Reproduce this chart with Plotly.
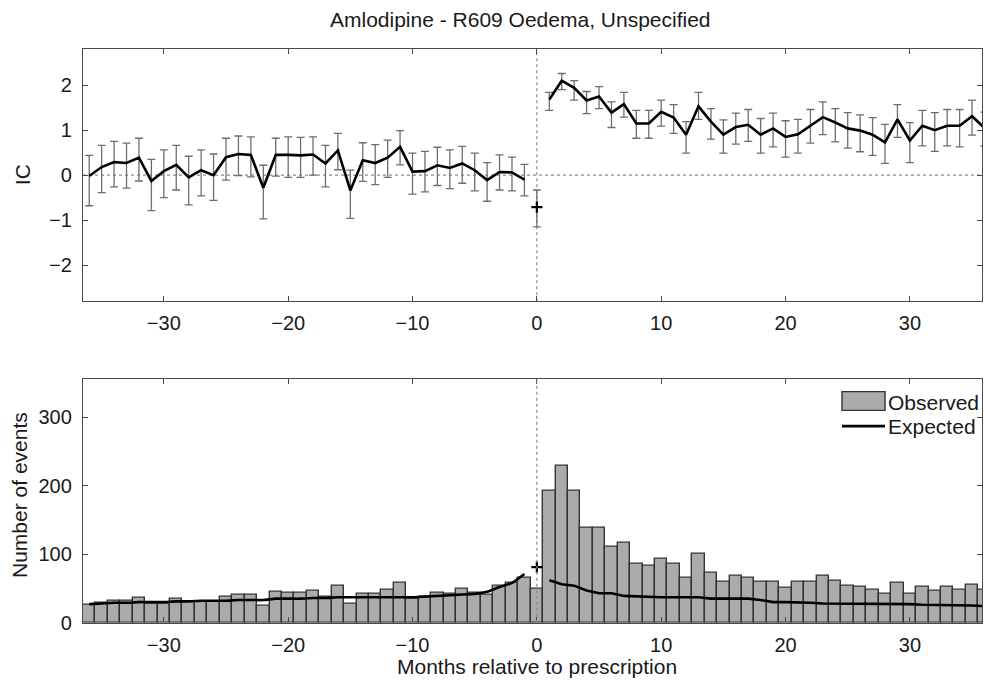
import plotly.graph_objects as go

# ---------------- data ----------------
months_pre = list(range(-36, 0))
months_post = list(range(1, 37))
months_all = list(range(-36, 37))

ic_pre = [-0.02, 0.18, 0.29, 0.27, 0.39, -0.13, 0.09, 0.23, -0.05, 0.11, 0.00, 0.40,
          0.47, 0.45, -0.28, 0.45, 0.45, 0.44, 0.46, 0.26, 0.55, -0.34, 0.33, 0.27,
          0.39, 0.63, 0.08, 0.09, 0.22, 0.16, 0.26, 0.11, -0.11, 0.07, 0.06, -0.10]
ic_pre_hi = [0.44, 0.66, 0.75, 0.71, 0.82, 0.35, 0.56, 0.66, 0.42, 0.56, 0.47, 0.82,
             0.87, 0.85, 0.22, 0.82, 0.85, 0.84, 0.85, 0.66, 0.93, 0.11, 0.72, 0.68,
             0.78, 0.99, 0.49, 0.53, 0.62, 0.56, 0.64, 0.49, 0.28, 0.45, 0.40, 0.24]
ic_pre_lo = [-0.68, -0.39, -0.26, -0.29, -0.13, -0.79, -0.50, -0.33, -0.66, -0.46, -0.56, -0.11,
             -0.01, -0.04, -0.97, -0.02, -0.05, -0.05, 0.00, -0.26, 0.12, -0.96, -0.14, -0.21,
             -0.05, 0.23, -0.42, -0.37, -0.23, -0.30, -0.18, -0.35, -0.58, -0.33, -0.35, -0.46]

ic_zero = [-0.71]
ic_zero_hi = [-0.33]
ic_zero_lo = [-1.15]

ic_post = [1.68, 2.10, 1.94, 1.66, 1.75, 1.39, 1.58, 1.15, 1.15, 1.41, 1.28, 0.90,
           1.53, 1.19, 0.90, 1.07, 1.12, 0.90, 1.04, 0.85, 0.91, 1.10, 1.29, 1.17,
           1.04, 0.99, 0.90, 0.73, 1.24, 0.77, 1.10, 1.00, 1.10, 1.10, 1.31, 1.05]
ic_post_hi = [1.84, 2.26, 2.10, 1.86, 1.97, 1.63, 1.84, 1.44, 1.44, 1.67, 1.57, 1.19,
              1.84, 1.48, 1.23, 1.38, 1.46, 1.26, 1.38, 1.21, 1.24, 1.46, 1.63, 1.48,
              1.39, 1.34, 1.28, 1.13, 1.57, 1.17, 1.44, 1.39, 1.46, 1.46, 1.67, 1.40]
ic_post_lo = [1.44, 1.90, 1.67, 1.37, 1.48, 1.06, 1.29, 0.82, 0.82, 1.09, 0.93, 0.49,
              1.24, 0.80, 0.49, 0.69, 0.75, 0.49, 0.63, 0.40, 0.49, 0.71, 0.90, 0.74,
              0.60, 0.52, 0.44, 0.26, 0.84, 0.28, 0.65, 0.53, 0.65, 0.63, 0.89, 0.65]

observed = [26, 29, 32, 32, 36, 28, 28, 34, 30, 31, 31, 38,
            41, 41, 25, 45, 43, 43, 46, 38, 53, 28, 42, 42,
            48, 58, 35, 37, 44, 42, 49, 43, 41, 53, 58, 66,
            49,
            193, 229, 193, 139, 139, 110, 116, 86, 83, 93, 86, 65,
            100, 72, 59, 68, 66, 60, 60, 51, 59, 60, 68, 61,
            54, 52, 48, 42, 58, 42, 52, 46, 52, 48, 55, 48]

expected_pre = [27, 28, 29, 29, 30, 30, 30, 31, 31, 32, 32, 32,
                33, 33, 33, 35, 35, 35, 36, 36, 37, 37, 37, 37,
                37, 37, 37, 38, 39, 40, 41, 42, 45, 52, 58, 71]
expected_zero = [81]
expected_post = [62, 56, 54, 47, 43, 43, 39, 38, 37, 37, 37, 37,
                 37, 35, 35, 35, 35, 33, 30, 30, 30, 29, 28, 28,
                 28, 28, 27, 27, 27, 27, 26, 26, 26, 25, 25, 24]

x_ticks = [-30, -20, -10, 0, 10, 20, 30]
ic_ticks = [-2, -1, 0, 1, 2]
count_ticks = [0, 100, 200, 300]

title_text = "Amlodipine - R609 Oedema, Unspecified"
ic_label = "IC"
count_label = "Number of events"
x_label = "Months relative to prescription"

# ---------------- figure ----------------
W, H = 984, 691          # reference picture size, used to convert to paper fractions
FONT = "Liberation Sans, Arial, Helvetica, sans-serif"
TXT = "#1a1a1a"
AX = "#4a4a4a"
ERR = "#6e6e6e"

def px_x(x):
    return x / W

def px_y(y):
    return 1 - y / H

fig = go.Figure()

def err(vals, hi, lo):
    return dict(type="data", symmetric=False,
                array=[h - v for v, h in zip(vals, hi)],
                arrayminus=[v - l for v, l in zip(vals, lo)],
                color=ERR, thickness=1.3, width=4)

cross = dict(symbol="cross-thin-open", size=8, color="black",
             line=dict(color="black", width=2.2))

fig.add_trace(go.Scatter(x=months_pre, y=ic_pre, mode="lines",
                         line=dict(color="black", width=2.6),
                         error_y=err(ic_pre, ic_pre_hi, ic_pre_lo),
                         xaxis="x", yaxis="y", showlegend=False))
fig.add_trace(go.Scatter(x=[0], y=ic_zero, mode="markers", marker=cross,
                         error_y=err(ic_zero, ic_zero_hi, ic_zero_lo),
                         xaxis="x", yaxis="y", showlegend=False))
fig.add_trace(go.Scatter(x=months_post, y=ic_post, mode="lines",
                         line=dict(color="black", width=2.6),
                         error_y=err(ic_post, ic_post_hi, ic_post_lo),
                         xaxis="x", yaxis="y", showlegend=False))

fig.add_trace(go.Bar(x=months_all, y=observed, width=1,
                     marker=dict(color="#ababab", line=dict(color="#333333", width=1.4)),
                     name="Observed", xaxis="x2", yaxis="y2", showlegend=False))
fig.add_trace(go.Scatter(x=months_pre, y=expected_pre, mode="lines",
                         line=dict(color="black", width=2.6, shape="spline", smoothing=0.6),
                         name="Expected", xaxis="x2", yaxis="y2", showlegend=False))
fig.add_trace(go.Scatter(x=months_post, y=expected_post, mode="lines",
                         line=dict(color="black", width=2.6),
                         xaxis="x2", yaxis="y2", showlegend=False))
fig.add_trace(go.Scatter(x=[0], y=expected_zero, mode="markers", marker=cross,
                         xaxis="x2", yaxis="y2", showlegend=False))

xdom = [px_x(83), px_x(982)]
top_dom = [px_y(306), px_y(50)]
bot_dom = [px_y(632.7), px_y(385)]

axis_common = dict(showline=True, mirror="ticks", linecolor=AX, linewidth=1.3,
                   ticks="inside", ticklen=5, tickcolor=AX, tickwidth=1.2,
                   showgrid=False, zeroline=False,
                   tickfont=dict(family=FONT, size=20, color=TXT))

fig.update_layout(
    autosize=True,
    margin=dict(l=0, r=0, t=0, b=0),
    paper_bgcolor="white", plot_bgcolor="white",
    bargap=0,
    xaxis=dict(domain=xdom, range=[-36.5, 35.8], tickvals=x_ticks, anchor="y",
               ticklabelstandoff=4, **axis_common),
    yaxis=dict(domain=top_dom, range=[-2.8, 2.8], tickvals=ic_ticks, anchor="x",
               ticklabelstandoff=6, **axis_common),
    xaxis2=dict(domain=xdom, range=[-36.5, 35.8], tickvals=x_ticks, anchor="y2",
                ticklabelstandoff=4, **axis_common),
    yaxis2=dict(domain=bot_dom, range=[0, 356], tickvals=count_ticks, anchor="x2",
                ticklabelstandoff=6, **axis_common),
)

# dotted reference lines
dot = dict(color="#8a8a8a", width=1.2, dash="dot")
fig.add_shape(type="line", xref="x", yref="y domain", x0=0, x1=0, y0=0, y1=1, line=dot, layer="below")
fig.add_shape(type="line", xref="x domain", yref="y", x0=0, x1=1, y0=0, y1=0, line=dot, layer="below")
fig.add_shape(type="line", xref="x2", yref="y2 domain", x0=0, x1=0, y0=0, y1=1, line=dot, layer="above")

# text
fig.add_annotation(text=title_text, xref="paper", yref="paper", x=px_x(520), y=px_y(20),
                   showarrow=False, font=dict(family=FONT, size=21, color=TXT),
                   xanchor="center", yanchor="middle")
fig.add_annotation(text=ic_label, xref="paper", yref="paper", x=px_x(22), y=px_y(178),
                   showarrow=False, textangle=-90, font=dict(family=FONT, size=21, color=TXT),
                   xanchor="center", yanchor="middle")
fig.add_annotation(text=count_label, xref="paper", yref="paper", x=px_x(20), y=px_y(503),
                   showarrow=False, textangle=-90, font=dict(family=FONT, size=21, color=TXT),
                   xanchor="center", yanchor="middle")
fig.add_annotation(text=x_label, xref="paper", yref="paper", x=px_x(537), y=px_y(677),
                   showarrow=False, font=dict(family=FONT, size=21, color=TXT),
                   xanchor="center", yanchor="middle", borderpad=0)

# custom legend (top-right of lower panel)
fig.add_shape(type="rect", xref="paper", yref="paper",
              x0=px_x(842), x1=px_x(885), y0=px_y(417), y1=px_y(398),
              fillcolor="#ababab", line=dict(color="#333333", width=1.4))
fig.add_shape(type="line", xref="paper", yref="paper",
              x0=px_x(842), x1=px_x(885), y0=px_y(433), y1=px_y(433),
              line=dict(color="black", width=2.6))
fig.add_annotation(text="Observed", xref="paper", yref="paper", x=px_x(887), y=px_y(409),
                   showarrow=False, font=dict(family=FONT, size=21, color=TXT),
                   xanchor="left", yanchor="middle", borderpad=0)
fig.add_annotation(text="Expected", xref="paper", yref="paper", x=px_x(887), y=px_y(433),
                   showarrow=False, font=dict(family=FONT, size=21, color=TXT),
                   xanchor="left", yanchor="middle", borderpad=0)

fig.write_html("out.html", config={"displayModeBar": False, "responsive": True},
               default_width="100vw", default_height="100vh",
               post_script="document.body.style.margin='0px';document.body.style.overflow='hidden';"
                           "window.dispatchEvent(new Event('resize'));")
